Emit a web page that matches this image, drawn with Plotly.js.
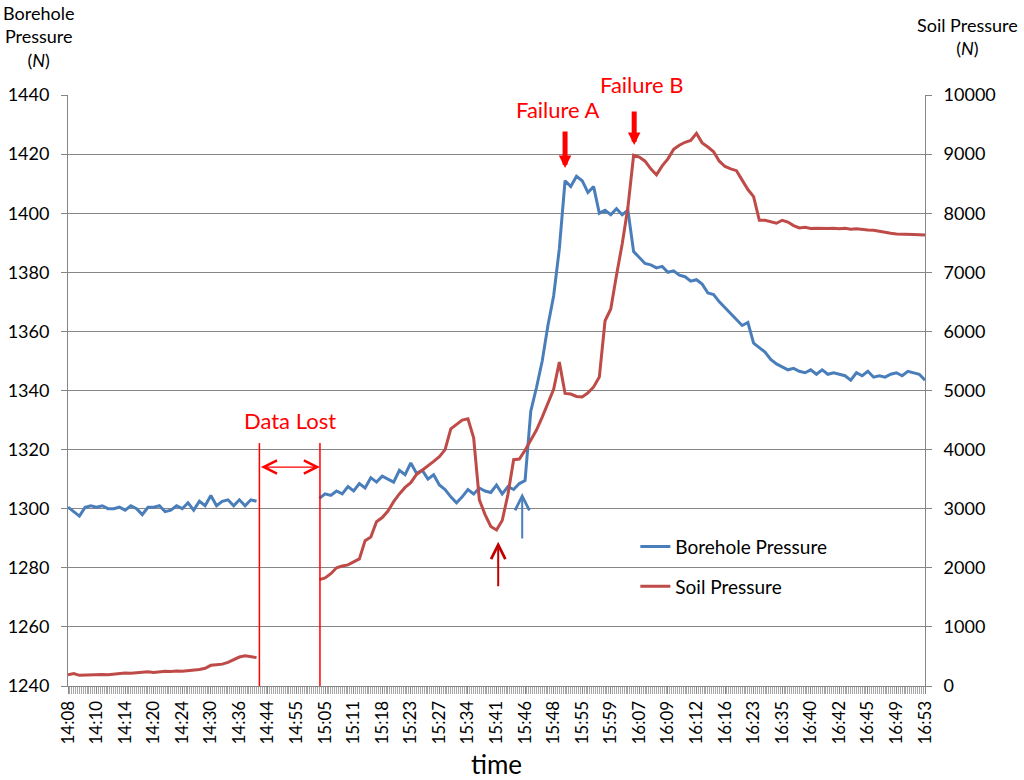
<!DOCTYPE html>
<html>
<head>
<meta charset="utf-8">
<script src="https://cdn.plot.ly/plotly-3.0.1.min.js"></script>
<style>
  html, body { margin: 0; padding: 0; background: #fff; }
  #chart { width: 1024px; height: 780px; }
</style>
</head>
<body>
<div id="chart"></div>
<script>
// Tick labels, one every 5 samples
const timeLabels = ['14:08', '14:10', '14:14', '14:20', '14:24', '14:30', '14:36', '14:44', '14:55', '15:05',
    '15:11', '15:18', '15:23', '15:27', '15:34', '15:41', '15:46', '15:48', '15:55', '15:59',
    '16:07', '16:09', '16:12', '16:16', '16:23', '16:35', '16:40', '16:42', '16:45', '16:49', '16:53'];
const samplesPerLabel = 5;

// Borehole pressure (N), left axis; null = data lost
const boreholePressure = [
    1300.5, 1299, 1297.5, 1300.5, 1301, 1300.5, 1301, 1300, 1300, 1300.5,
    1299.5, 1301, 1300, 1298, 1300.5, 1300.5, 1301, 1299, 1299.5, 1301,
    1300, 1302, 1299.5, 1302.5, 1301, 1304.5, 1301, 1302.5, 1303, 1301,
    1303, 1301, 1303, 1302.5,
    null, null, null, null, null, null, null, null, null, null,
    1303.5, 1305, 1304.5, 1306, 1305, 1307.5, 1306, 1308.5, 1307, 1310.5,
    1309, 1311, 1310, 1309, 1313, 1311.5, 1315.5, 1312, 1313, 1310,
    1311.5, 1308, 1306.5, 1304, 1302, 1304, 1306.5, 1305, 1307, 1306,
    1305.5, 1308, 1305, 1307.5, 1306.5, 1308.5, 1309.5, 1333, 1341, 1350,
    1362, 1372, 1388, 1411, 1409, 1412.5, 1411, 1407, 1409, 1400,
    1401, 1399.5, 1401.5, 1399.5, 1401, 1387, 1385, 1383, 1382.5, 1381.5,
    1382, 1380, 1380.5, 1379, 1378.5, 1377, 1377.5, 1376, 1373, 1372.5,
    1370, 1368, 1366, 1364, 1362, 1363, 1356, 1354.5, 1353, 1350.5,
    1349, 1348, 1347, 1347.5, 1346.5, 1346, 1347, 1345.5, 1347, 1345.5,
    1346, 1345.5, 1345, 1343.5, 1346, 1345, 1346.5, 1344.5, 1345, 1344.5,
    1345.5, 1346, 1345, 1346.5, 1346, 1345.5, 1343.5
];

// Soil pressure (N), right axis; null = data lost
const soilPressure = [
    190, 210, 180, 185, 190, 185, 195, 190, 200, 210,
    220, 215, 225, 230, 240, 230, 240, 250, 245, 255,
    250, 260, 265, 280, 300, 350, 360, 370, 400, 440,
    490, 510, 490, 480,
    null, null, null, null, null, null, null, null, null, null,
    1800, 1830, 1900, 2000, 2030, 2050, 2100, 2150, 2460, 2520,
    2780, 2850, 2960, 3120, 3250, 3360, 3440, 3580, 3650, 3720,
    3800, 3880, 4000, 4350, 4420, 4500, 4520, 4200, 3150, 2900,
    2700, 2640, 2800, 3240, 3830, 3840, 3990, 4150, 4330, 4550,
    4780, 5020, 5480, 4950, 4940, 4900, 4890, 4960, 5060, 5230,
    6180, 6380, 6950, 7480, 8100, 8980, 8950, 8880, 8750, 8650,
    8800, 8920, 9080, 9150, 9200, 9230, 9350, 9190, 9120, 9040,
    8880, 8790, 8750, 8720, 8560, 8400, 8280, 7880, 7880, 7860,
    7830, 7880, 7850, 7790, 7750, 7760, 7740, 7745, 7740, 7740,
    7745, 7735, 7745, 7730, 7735, 7720, 7715, 7710, 7690, 7670,
    7660, 7650, 7650, 7640, 7640, 7635, 7630
];

const FONT = 'Lato, "Open Sans", "DejaVu Sans", sans-serif';
const AXIS_GREY = '#868686';
const BLUE = '#4a7ebb';
const RED = '#be4b48';

const sampleIdx = boreholePressure.map((_, i) => i);
const tickIdx = timeLabels.map((_, i) => i * samplesPerLabel);

const traces = [
    {
        x: sampleIdx, y: boreholePressure, name: 'Borehole Pressure',
        type: 'scatter', mode: 'lines', connectgaps: false,
        line: { color: BLUE, width: 3 }, legendgroup: 'a'
    },
    {
        x: sampleIdx, y: soilPressure, name: 'Soil Pressure', yaxis: 'y2',
        type: 'scatter', mode: 'lines', connectgaps: false,
        line: { color: RED, width: 3 }, legendgroup: 'b'
    }
];

// annotation helpers
function label(text, x, y, yref) {
    return { text: text, x: x, y: y, xref: 'x', yref: yref || 'y', showarrow: false,
        xanchor: 'center', yanchor: 'middle',
        font: { family: FONT, size: 22, color: '#ff0000' } };
}
function arrow(x, y, ay, color, width, head, size) {
    return { text: '', x: x, y: y, xref: 'x', yref: 'y', ax: 0, ay: ay,
        showarrow: true, arrowhead: head, arrowsize: size, arrowwidth: width, arrowcolor: color };
}

const gapStart = 33.5, gapEnd = 44.1;

const layout = {
    width: 1024, height: 780,
    margin: { l: 68, r: 99, t: 95, b: 94 },
    paper_bgcolor: '#fff', plot_bgcolor: '#fff',
    font: { family: FONT, size: 18, color: '#000' },
    showlegend: true,
    legend: {
        x: 0.662, y: 0.268, xanchor: 'left', yanchor: 'top',
        bgcolor: 'rgba(0,0,0,0)', traceorder: 'grouped', tracegroupgap: 12,
        font: { family: FONT, size: 19, color: '#000' }
    },
    xaxis: {
        range: [0, 150], tickmode: 'array', tickvals: tickIdx, ticktext: timeLabels,
        tickangle: -90, tickfont: { size: 17 }, ticks: 'outside', ticklen: 7, tickcolor: AXIS_GREY,
        minor: { tickmode: 'linear', tick0: 0, dtick: 1 / 3, ticks: 'outside', ticklen: 7, tickcolor: '#a6a6a6', showgrid: false },
        showline: true, linecolor: AXIS_GREY, showgrid: false, zeroline: false,
        title: { text: 'time', font: { size: 26 }, standoff: 18 }
    },
    yaxis: {
        range: [1240, 1440], dtick: 20, ticks: 'outside', ticklen: 6, tickcolor: AXIS_GREY,
        showline: true, linecolor: AXIS_GREY, showgrid: true, gridcolor: AXIS_GREY, gridwidth: 1,
        zeroline: false, tickfont: { size: 18 }, ticklabelstandoff: 8
    },
    yaxis2: {
        overlaying: 'y', side: 'right', range: [0, 10000], dtick: 1000, tickformat: 'd',
        ticks: 'outside', ticklen: 6, tickcolor: AXIS_GREY,
        showline: true, linecolor: AXIS_GREY, showgrid: false, zeroline: false,
        tickfont: { size: 18 }, ticklabelstandoff: 8
    },
    shapes: [gapStart, gapEnd].map(x => ({
        type: 'line', xref: 'x', yref: 'y', x0: x, x1: x, y0: 1240, y1: 1322.2,
        line: { color: '#ff0000', width: 1.5 }
    })),
    annotations: [
        { text: 'Borehole<br>Pressure<br>(<i>N</i>)', xref: 'paper', yref: 'paper', x: -0.035, y: 1.161,
          xanchor: 'center', yanchor: 'top', showarrow: false, font: { family: FONT, size: 18 } },
        { text: 'Soil Pressure<br>(<i>N</i>)', xref: 'paper', yref: 'paper', x: 1.05, y: 1.14,
          xanchor: 'center', yanchor: 'top', showarrow: false, font: { family: FONT, size: 18 } },
        label('Data Lost', 38.9, 1330),
        label('Failure A', 85.8, 1435),
        label('Failure B', 100.5, 1.0186, 'paper'),
        arrow(87, 1415.3, -38, '#ff0000', 5, 2, 0.5),
        arrow(99.1, 1423.1, -35, '#ff0000', 5, 2, 0.5),
        arrow(75.3, 1288.8, 46, '#c00000', 2, 5, 1.4),
        arrow(79.5, 1305.3, 47, BLUE, 2, 5, 1.4),
        { text: '', x: gapEnd, y: 1314.1, ax: gapStart, ay: 1314.1, xref: 'x', yref: 'y', axref: 'x', ayref: 'y',
          showarrow: true, arrowside: 'end+start', arrowhead: 5, startarrowhead: 5,
          arrowsize: 2, startarrowsize: 2, arrowwidth: 1.3, arrowcolor: '#ff0000' }
    ]
};

Plotly.newPlot('chart', traces, layout, { staticPlot: true });
</script>
</body>
</html>
